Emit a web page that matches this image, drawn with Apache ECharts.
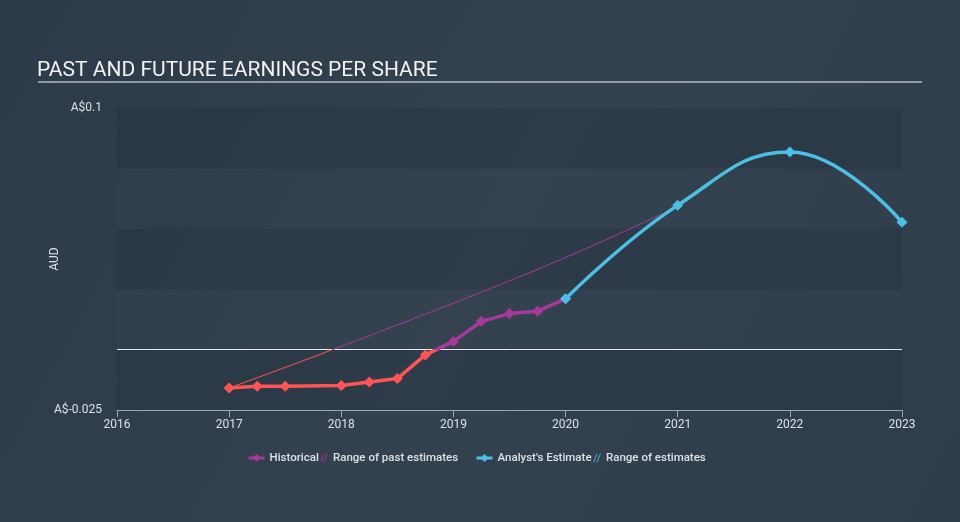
<!DOCTYPE html>
<html>
<head>
<meta charset="utf-8">
<script src="https://cdn.jsdelivr.net/npm/echarts@6/dist/echarts.min.js"></script>
<style>
  html, body { margin: 0; padding: 0; }
  #chart { width: 960px; height: 522px; }
</style>
</head>
<body>
<div id="chart"></div>
<script>
// historical EPS (quarterly points)
const histYears = [2017, 2017.25, 2017.5, 2018, 2018.25, 2018.5, 2018.75, 2019, 2019.25, 2019.5, 2019.75, 2020]
const histValues = [-0.0159, -0.0152, -0.0152, -0.0149, -0.0134, -0.012, -0.0022, 0.0034, 0.0117, 0.0149, 0.0159, 0.021]

// thin "range of past estimates" line
const pastEstYears = [2017, 2019.53, 2020.93]
const pastEstValues = [-0.0159, 0.029, 0.0577]

// analyst estimates
const estYears = [2020, 2021, 2022, 2023]
const estValues = [0.021, 0.0597, 0.0818, 0.0527]

const yTicks = [-0.025, 0.1]

const RED = '#ff5454'
const PURPLE = '#a6399a'
const BLUE = '#4cbfe4'
const TEXT = '#dde1e6'
const FONT = 'Roboto'

function pairs(xs, ys) {
  return xs.map((x, i) => [x, ys[i]])
}

const hatch = 'path://M0,10 L4,0 L5.5,0 L1.5,10 Z M4,10 L8,0 L9.5,0 L5.5,10 Z'

// one legend box per entry so the gaps can follow the reference
function legendBox(left, name, width, extra) {
  return {
    left: left,
    top: 447,
    itemWidth: width,
    itemHeight: 10,
    textStyle: { color: TEXT, fontSize: 11.5, fontWeight: 500, fontFamily: FONT },
    data: [Object.assign({ name: name }, extra)]
  }
}

const chart = echarts.init(document.getElementById('chart'))

const option = {
  backgroundColor: {
    type: 'linear', x: 0, y: 0, x2: 1, y2: 1,
    colorStops: [
      { offset: 0, color: '#2c3a49' },
      { offset: 0.5, color: '#34424f' },
      { offset: 1, color: '#2f3c4b' }
    ]
  },
  textStyle: { fontFamily: FONT },
  animation: false,
  title: {
    text: 'PAST AND FUTURE EARNINGS PER SHARE',
    left: 32,
    top: 55,
    textStyle: { color: '#f2f2f2', fontSize: 21, fontWeight: 'normal', fontFamily: FONT }
  },
  graphic: [
    {
      type: 'line',
      shape: { x1: 38, y1: 82, x2: 922, y2: 82 },
      style: { stroke: '#b4bac2', lineWidth: 1.5 },
      silent: true
    }
  ],
  grid: { left: 117, right: 58, top: 108, bottom: 112 },
  visualMap: {
    show: false,
    type: 'piecewise',
    dimension: 1,
    seriesIndex: [0, 1],
    pieces: [
      { gte: -1, lt: 0, color: RED },
      { gte: 0, lte: 1, color: PURPLE }
    ]
  },
  legend: [
    legendBox(242, 'Historical', 16, { itemStyle: { color: PURPLE }, lineStyle: { color: PURPLE, width: 3 } }),
    legendBox(315, 'Range of past estimates', 8, { icon: hatch, itemStyle: { color: PURPLE, opacity: 0.7 } }),
    legendBox(470, "Analyst's Estimate", 16, { itemStyle: { color: BLUE }, lineStyle: { color: BLUE, width: 3 } }),
    legendBox(588, 'Range of estimates', 8, { icon: hatch, itemStyle: { color: BLUE, opacity: 0.7 } })
  ],
  xAxis: {
    type: 'value',
    min: 2016,
    max: 2023,
    interval: 1,
    axisLine: { show: true, onZero: false, lineStyle: { color: '#9aa6b2', width: 1 } },
    axisTick: { show: true, length: 7, lineStyle: { color: '#9aa6b2' } },
    axisLabel: { color: TEXT, fontSize: 12, margin: 9, formatter: v => String(v) },
    splitLine: { show: false }
  },
  yAxis: {
    type: 'value',
    min: -0.025,
    max: 0.1,
    interval: 0.025,
    name: 'AUD',
    nameLocation: 'middle',
    nameGap: 56,
    nameMoveOverlap: false,
    nameTextStyle: { color: TEXT, fontSize: 12 },
    axisLine: { show: false },
    axisTick: { show: false },
    axisLabel: {
      color: TEXT,
      fontSize: 12,
      margin: 15,
      formatter: v => yTicks.some(t => Math.abs(t - v) < 1e-9) ? 'A$' + (+v.toFixed(3)) : ''
    },
    splitLine: { show: false },
    splitArea: {
      show: true,
      areaStyle: { color: ['rgba(20,30,42,0.16)', 'rgba(60,75,92,0.1)'] }
    }
  },
  series: [
    {
      name: 'Range of past estimates',
      type: 'line',
      data: pairs(pastEstYears, pastEstValues),
      smooth: true,
      showSymbol: false,
      symbol: 'none',
      lineStyle: { width: 1 },
      z: 2
    },
    {
      name: 'Historical',
      type: 'line',
      data: pairs(histYears, histValues),
      symbol: 'diamond',
      symbolSize: 11,
      lineStyle: { width: 3.5 },
      z: 4
    },
    {
      name: "Analyst's Estimate",
      type: 'line',
      data: pairs(estYears, estValues),
      smooth: 0.45,
      symbol: 'diamond',
      symbolSize: 11,
      itemStyle: { color: BLUE },
      lineStyle: { color: BLUE, width: 3.5 },
      z: 5,
      markLine: {
        silent: true,
        symbol: 'none',
        label: { show: false },
        lineStyle: { color: '#e6e9ec', width: 1, type: 'solid' },
        data: [{ yAxis: 0 }],
        z: 1
      }
    },
    {
      name: 'Range of estimates',
      type: 'line',
      data: [],
      itemStyle: { color: BLUE }
    }
  ]
}

chart.setOption(option)
</script>
</body>
</html>
